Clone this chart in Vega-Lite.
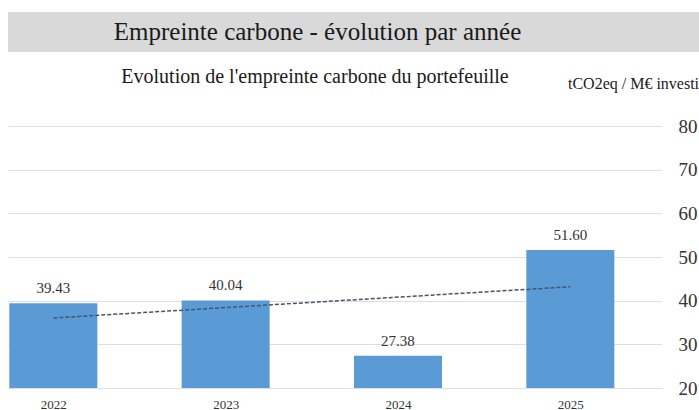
{
  "$schema": "https://vega.github.io/schema/vega-lite/v6.json",
  "background": "white",
  "padding": {"left": 8, "top": 12, "right": 0, "bottom": 0},
  "config": {"view": {"stroke": null}, "font": "Liberation Serif"},
  "spacing": 15,
  "vconcat": [
    {
      "width": 691,
      "height": 40,
      "view": {"fill": "#d9d9d9", "stroke": null},
      "data": {"values": [{"t": "Empreinte carbone - évolution par année"}]},
      "mark": {"type": "text", "font": "Liberation Serif", "fontSize": 25, "color": "#1a1a1a", "baseline": "middle", "align": "center", "dx": -36},
      "encoding": {"text": {"field": "t"}}
    },
    {
      "width": 654,
      "height": 262,
      "title": {"text": "Evolution de l'empreinte carbone du portefeuille", "frame": "group", "font": "Liberation Serif", "fontSize": 20, "fontWeight": "normal", "color": "#1a1a1a", "offset": -12, "dx": -20},
      "data": {"values": [
        {"year": 2022, "value": 39.43},
        {"year": 2023, "value": 40.04},
        {"year": 2024, "value": 27.38},
        {"year": 2025, "value": 51.60}
      ]},
      "encoding": {
        "x": {"field": "year", "type": "quantitative", "scale": {"domain": [2021.766, 2025.503], "nice": false, "zero": false},
          "axis": {"values": [2022, 2023, 2024, 2025], "format": "d", "title": null, "grid": false, "ticks": false, "domain": false, "labelFont": "Liberation Serif", "labelFontSize": 13, "labelColor": "#333333", "labelPadding": 10, "labelFlush": false}},
        "y": {"field": "value", "type": "quantitative", "scale": {"domain": [20, 80], "nice": false, "zero": false},
          "axis": {"orient": "right", "values": [20, 30, 40, 50, 60, 70, 80], "title": "tCO2eq / M€ investi", "titleAngle": 0, "titleX": -29, "titleY": -43, "titleAlign": "center", "titleBaseline": "middle", "titleFont": "Liberation Serif", "titleFontSize": 16, "titleFontWeight": "normal", "titleColor": "#1a1a1a", "ticks": false, "domain": false, "gridColor": "#dedede", "labelFont": "Liberation Serif", "labelFontSize": 19, "labelColor": "#333333", "labelPadding": 16}}
      },
      "layer": [
        {"mark": {"type": "bar", "size": 88, "color": "#5b9bd5", "clip": true}},
        {"mark": {"type": "text", "baseline": "bottom", "dy": -7, "fontSize": 15, "font": "Liberation Serif", "color": "#333333"},
          "encoding": {"text": {"field": "value", "type": "quantitative", "format": ".2f"}}},
        {"transform": [{"regression": "value", "on": "year", "extent": [2022, 2025]}],
          "mark": {"type": "line", "color": "#44546a", "strokeDash": [4, 2], "strokeWidth": 1.5}}
      ]
    }
  ]
}
